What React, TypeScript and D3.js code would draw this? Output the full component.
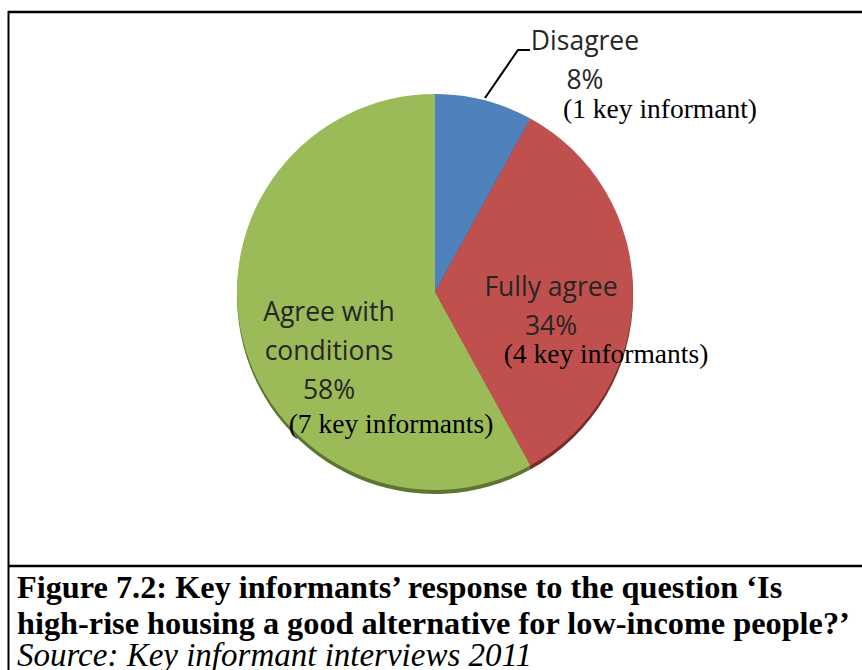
import { useEffect, useRef } from "react";
import * as d3 from "d3";

const CATEGORIES = ["Disagree", "Fully agree", "Agree with conditions"];
const PERCENTS = [8, 34, 58];
const INFORMANTS = ["(1 key informant)", "(4 key informants)", "(7 key informants)"];
const COLORS = ["#4f81bd", "#c0504d", "#9bbb59"];
const SHADOW_COLORS = ["#2f5680", "#7a2a28", "#5c7530"];

const CAPTION_LINES = [
  "Figure 7.2: Key informants\u2019 response to the question \u2018Is",
  "high-rise housing a good alternative for low-income people?\u2019",
];
const SOURCE_LINE = "Source: Key informant interviews 2011";

// label anchors (centre x, first baseline y) for each slice
const LABEL_LAYOUT = [
  { x: 585, y: 50, lines: ["Disagree"], infoX: 660, infoY: 118 },
  { x: 551, y: 296, lines: ["Fully agree"], infoX: 606, infoY: 363 },
  { x: 329, y: 321, lines: ["Agree with", "conditions"], infoX: 391, infoY: 433 },
];

const W = 862;
const H = 670;

export default function App() {
  const svgRef = useRef<SVGSVGElement>(null);

  useEffect(() => {
    document.body.style.margin = "0";
    const svg = d3.select(svgRef.current);
    svg.selectAll("*").remove();

    svg.append("rect").attr("width", W).attr("height", H).attr("fill", "#fff");

    const cx = 435;
    const cy = 292;
    const r = 198;

    const pie = d3.pie<number>().sort(null).value((d) => d);
    const arcs = pie(PERCENTS);
    const arc = d3.arc<d3.PieArcDatum<number>>().innerRadius(0).outerRadius(r);

    // darker rim underneath (old Excel look)
    const shadow = svg.append("g").attr("transform", `translate(${cx},${cy + 4})`);
    shadow.selectAll("path").data(arcs).enter().append("path")
      .attr("d", arc)
      .attr("fill", (_d, i) => SHADOW_COLORS[i]);

    const g = svg.append("g").attr("transform", `translate(${cx},${cy})`);
    g.selectAll("path").data(arcs).enter().append("path")
      .attr("d", arc)
      .attr("fill", (_d, i) => COLORS[i])
      .append("title").text((_d, i) => CATEGORIES[i]);

    // leader line for Disagree
    svg.append("path")
      .attr("d", "M485,98 L518,50 L530,50")
      .attr("fill", "none").attr("stroke", "#000").attr("stroke-width", 2);

    const sans = "'Open Sans', sans-serif";
    const serif = "'Liberation Serif', 'Times New Roman', serif";
    const lineH = 39;

    LABEL_LAYOUT.forEach((lab, i) => {
      const t = svg.append("text")
        .attr("text-anchor", "middle")
        .attr("font-family", sans).attr("font-size", 26.5)
        .attr("fill", "#262626");
      const lines = [...lab.lines, `${PERCENTS[i]}%`];
      lines.forEach((ln, j) => {
        t.append("tspan").attr("x", lab.x).attr("y", lab.y + j * lineH).text(ln);
      });
      svg.append("text")
        .attr("x", lab.infoX).attr("y", lab.infoY)
        .attr("text-anchor", "middle")
        .attr("font-family", serif).attr("font-size", 27.5)
        .attr("fill", "#000")
        .text(INFORMANTS[i]);
    });

    // frame
    svg.append("line").attr("x1", 8).attr("x2", W).attr("y1", 12).attr("y2", 12)
      .attr("stroke", "#000").attr("stroke-width", 2.5);
    svg.append("line").attr("x1", 8.5).attr("x2", 8.5).attr("y1", 11).attr("y2", H)
      .attr("stroke", "#000").attr("stroke-width", 2);
    svg.append("line").attr("x1", 8).attr("x2", W).attr("y1", 566).attr("y2", 566)
      .attr("stroke", "#000").attr("stroke-width", 2.5);

    // caption
    CAPTION_LINES.forEach((ln, i) => {
      svg.append("text")
        .attr("x", 17).attr("y", 598 + i * 36)
        .attr("font-family", serif).attr("font-size", 32.3).attr("font-weight", "bold")
        .attr("fill", "#000")
        .text(ln);
    });
    svg.append("text")
      .attr("x", 17).attr("y", 666)
      .attr("font-family", serif).attr("font-size", 33).attr("font-style", "italic")
      .attr("fill", "#000")
      .text(SOURCE_LINE);
  }, []);

  return <svg ref={svgRef} width={W} height={H} style={{ display: "block" }} />;
}
